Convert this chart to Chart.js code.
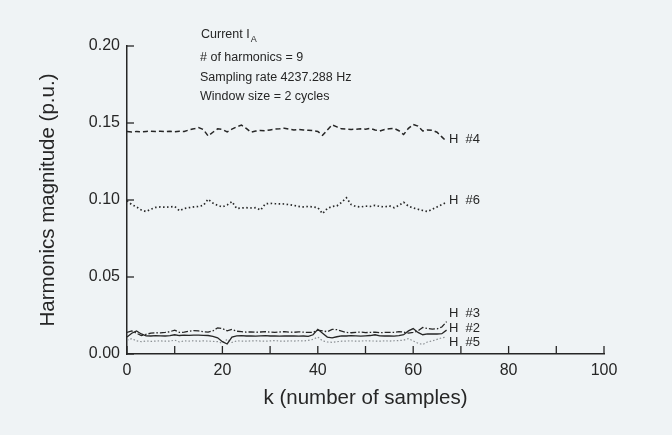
<!DOCTYPE html>
<html>
<head>
<meta charset="utf-8">
<script src="https://cdn.jsdelivr.net/npm/chart.js@4/dist/chart.umd.min.js"></script>
<style>
  html, body { margin: 0; padding: 0; background: #eff3f5; }
  #wrap { width: 672px; height: 435px; position: relative; }
</style>
</head>
<body>
<div id="wrap"><canvas id="chart"></canvas></div>
<script>
// sample index k
const samples = [0,1,2,3,4,5,6,7,8,9,10,11,12,13,14,15,16,17,18,19,20,21,22,23,24,25,26,27,28,29,30,31,32,33,
  34,35,36,37,38,39,40,41,42,43,44,45,46,47,48,49,50,51,52,53,54,55,56,57,58,59,60,61,62,63,64,65,66,67];

const h4 = [.1445,.1442,.1445,.1443,.1445,.1447,.1445,.1446,.1444,.1446,.1443,.1446,.1445,.1455,.1462,.1470,.1458,.1416,
  .1440,.1462,.1458,.1442,.1460,.1475,.1486,.1465,.1440,.1448,.1452,.1450,.1455,.1460,.1462,.1466,.1460,.1455,.1458,
  .1455,.1453,.1450,.1445,.1420,.1455,.1488,.1475,.1462,.1460,.1458,.1460,.1462,.1460,.1465,.1455,.1448,.1458,.1462,
  .1465,.1450,.1425,.1465,.1490,.1480,.1448,.1455,.1452,.1440,.1410,.1380];

const h6 = [.0995,.0970,.0955,.0935,.0925,.0940,.0952,.0955,.0953,.0955,.0958,.0930,.0945,.0950,.0955,.0958,.0965,.1005,
  .0980,.0965,.0955,.0968,.0990,.0945,.0948,.0950,.0948,.0950,.0935,.0975,.0978,.0976,.0975,.0974,.0970,.0965,.0958,
  .0955,.0958,.0955,.0950,.0912,.0945,.0958,.0962,.0985,.1015,.0970,.0958,.0955,.0960,.0958,.0965,.0958,.0955,.0962,
  .0950,.0965,.0985,.0960,.0948,.0940,.0932,.0925,.0940,.0955,.0970,.0985];

const h3 = [.0140,.0150,.0135,.0120,.0128,.0135,.0138,.0137,.0140,.0145,.0155,.0140,.0142,.0148,.0152,.0150,.0145,.0142,
  .0150,.0170,.0165,.0150,.0160,.0148,.0145,.0142,.0144,.0141,.0143,.0145,.0142,.0140,.0143,.0145,.0142,.0141,.0144,
  .0142,.0140,.0140,.0155,.0150,.0145,.0160,.0158,.0148,.0140,.0138,.0141,.0142,.0139,.0140,.0142,.0138,.0140,.0141,
  .0140,.0145,.0142,.0135,.0140,.0150,.0172,.0165,.0162,.0163,.0175,.0210];

const h2 = [.0110,.0135,.0150,.0130,.0118,.0117,.0119,.0118,.0117,.0119,.0125,.0120,.0122,.0121,.0123,.0122,.0121,.0120,
  .0115,.0105,.0080,.0065,.0110,.0118,.0119,.0117,.0118,.0116,.0118,.0119,.0117,.0118,.0116,.0117,.0118,.0117,.0116,
  .0117,.0115,.0125,.0160,.0135,.0110,.0105,.0112,.0118,.0117,.0119,.0118,.0116,.0118,.0120,.0125,.0118,.0117,.0118,
  .0116,.0120,.0125,.0150,.0165,.0140,.0125,.0130,.0131,.0130,.0132,.0155];

const h5 = [.0090,.0100,.0085,.0080,.0085,.0082,.0084,.0085,.0083,.0084,.0090,.0078,.0085,.0084,.0086,.0083,.0085,.0084,
  .0082,.0080,.0070,.0095,.0075,.0085,.0084,.0083,.0085,.0086,.0084,.0083,.0085,.0087,.0084,.0083,.0085,.0084,.0086,
  .0085,.0088,.0095,.0110,.0085,.0078,.0076,.0080,.0083,.0084,.0085,.0083,.0084,.0086,.0085,.0084,.0083,.0085,.0084,
  .0086,.0087,.0090,.0100,.0085,.0070,.0062,.0078,.0085,.0095,.0105,.0110];

// curve labels and where they sit (in data units)
const curveNames = ["H  #4", "H  #6", "H  #3", "H  #2", "H  #5"];
const curveLabelK = 67.5;
const curveLabelY = [.1392, .0995, .0262, .0165, .0072];

const yTicks = [0, 0.05, 0.10, 0.15, 0.20];
const noteLines = ["# of harmonics = 9", "Sampling rate 4237.288 Hz", "Window size = 2 cycles"];

const ink = "#262626";
const fam = "'Liberation Sans', Arial, sans-serif";

const pts = (arr) => samples.map((k, i) => ({ x: k, y: arr[i] }));

function series(label, arr, dash, color, width) {
  return {
    label, data: pts(arr), borderColor: color, borderWidth: width,
    borderDash: dash, pointRadius: 0, tension: 0, fill: false
  };
}

// ticks pointing into the plot, plus the text notes
const extras = {
  id: "extras",
  afterDraw(chart) {
    const { ctx, chartArea: a, scales: { x, y } } = chart;
    ctx.save();
    ctx.strokeStyle = ink;
    ctx.lineWidth = 1.3;
    x.ticks.forEach(t => {
      const px = x.getPixelForValue(t.value);
      ctx.beginPath(); ctx.moveTo(px, a.bottom); ctx.lineTo(px, a.bottom - 8); ctx.stroke();
    });
    yTicks.forEach(v => {
      const py = y.getPixelForValue(v);
      ctx.beginPath(); ctx.moveTo(a.left, py); ctx.lineTo(a.left + 7, py); ctx.stroke();
    });

    ctx.fillStyle = ink;
    ctx.textBaseline = "middle";
    ctx.textAlign = "left";
    ctx.font = "13px " + fam;
    curveNames.forEach((n, i) => {
      ctx.fillText(n, x.getPixelForValue(curveLabelK), y.getPixelForValue(curveLabelY[i]));
    });

    ctx.font = "12.5px " + fam;
    const nx = a.left + 73;
    ctx.fillText("Current I", nx + 1, a.top - 11);
    const w = ctx.measureText("Current I").width;
    ctx.font = "9px " + fam;
    ctx.fillText("A", nx + 2 + w, a.top - 6);
    ctx.font = "12.5px " + fam;
    noteLines.forEach((s, i) => ctx.fillText(s, nx, a.top + 12 + i * 19.5));
    ctx.restore();
  }
};

new Chart(document.getElementById("chart"), {
  type: "line",
  data: {
    datasets: [
      series("H #4", h4, [5, 3], ink, 1.5),
      series("H #6", h6, [1.5, 2.5], ink, 1.7),
      series("H #3", h3, [6, 2, 1.5, 2], ink, 1.3),
      series("H #2", h2, [], ink, 1.3),
      series("H #5", h5, [1.5, 2], "#8a8f93", 1.2)
    ]
  },
  options: {
    responsive: true,
    maintainAspectRatio: false,
    animation: false,
    layout: { padding: { left: 36, top: 46, right: 68, bottom: 20 } },
    plugins: { legend: { display: false }, tooltip: { enabled: false } },
    scales: {
      x: {
        type: "linear", min: 0, max: 100,
        afterFit: (s) => { s.height = 61; },
        grid: { display: false, drawTicks: false },
        border: { display: true, color: ink, width: 1.5 },
        ticks: {
          stepSize: 10, autoSkip: false, maxRotation: 0, padding: 7,
          color: ink, font: { family: fam, size: 16 },
          callback: (v) => (v % 20 === 0 ? v : "")
        },
        title: {
          display: true, text: "k (number of samples)", color: ink,
          font: { family: fam, size: 20.5 }, padding: { top: 0, bottom: 4 }
        }
      },
      y: {
        min: 0, max: 0.2,
        afterFit: (s) => { s.width = 91; },
        afterBuildTicks: (s) => { s.ticks = yTicks.map(v => ({ value: v })); },
        grid: { display: false, drawTicks: false },
        border: { display: true, color: ink, width: 1.5 },
        ticks: {
          padding: 7, color: ink, font: { family: fam, size: 16 },
          callback: (v) => v.toFixed(2)
        },
        title: {
          display: true, text: "Harmonics magnitude (p.u.)", color: ink,
          font: { family: fam, size: 20.5 }, padding: { top: 0, bottom: 0 }
        }
      }
    }
  },
  plugins: [extras]
});
</script>
</body>
</html>
